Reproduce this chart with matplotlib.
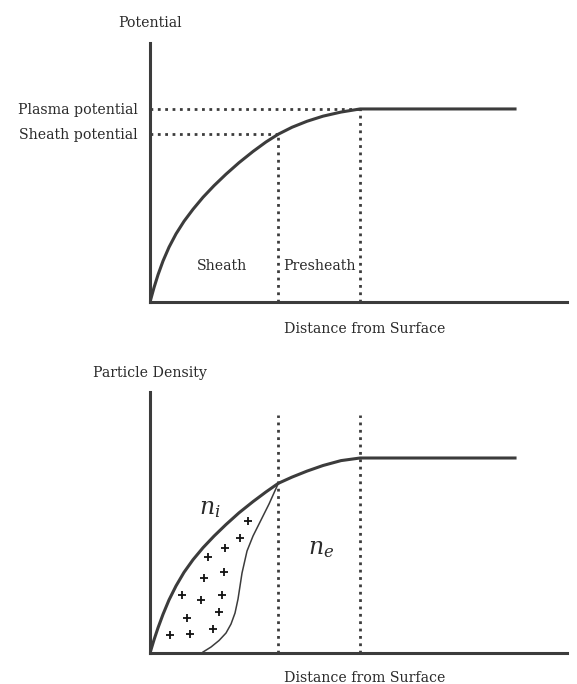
import numpy as np
import matplotlib.pyplot as plt

# values (distance / potential / density in arbitrary units)
sheath_edge = 12.83
presheath_edge = 21.0
plasma_pot = 19.3
sheath_pot = 16.8

pot_x = [0, 0.4, 0.8, 1.3, 1.9, 2.6, 3.4, 4.3, 5.3, 6.4, 7.6, 8.9, 10.3, 11.6,
         12.83, 14.2, 15.7, 17.3, 19.1, 21.0, 36.5]
pot_y = [0, 1.44, 2.72, 4.1, 5.48, 6.81, 8.07, 9.27, 10.47, 11.63, 12.78, 13.93,
         15.05, 16.0, 16.78, 17.47, 18.07, 18.58, 18.99, 19.3, 19.3]

ni_x = [0, 0.4, 0.8, 1.3, 1.9, 2.6, 3.4, 4.3, 5.3, 6.4, 7.6, 8.9, 10.3, 11.6,
        12.83, 14.2, 15.7, 17.3, 19.1, 21.0, 36.5]
ni_y = [0, 1.32, 2.52, 3.87, 5.31, 6.71, 8.07, 9.33, 10.53, 11.69, 12.85, 14.02,
        15.14, 16.11, 16.97, 17.59, 18.19, 18.75, 19.24, 19.5, 19.5]

ne_x = [5.3, 6.1, 6.9, 7.6, 8.1, 8.5, 8.8, 9.0, 9.2, 9.7, 10.3, 11.0, 11.9, 12.83]
ne_y = [0.1, 0.6, 1.25, 2.0, 2.9, 4.0, 5.4, 6.7, 8.0, 10.2, 11.7, 13.1, 14.9, 16.97]

plus_x = [1.97, 4.03, 6.3, 3.73, 6.87, 3.23, 5.07, 7.2, 5.4, 7.4, 5.8, 7.47, 9.0, 9.83]
plus_y = [1.8, 1.87, 2.37, 3.53, 4.07, 5.8, 5.3, 5.8, 7.47, 8.13, 9.63, 10.47, 11.47, 13.23]

dens_line_top = 23.8

plt.rcParams['font.family'] = 'DejaVu Serif'
plt.rcParams['mathtext.fontset'] = 'dejavuserif'

dark = '#3c3c3c'
txt = '#2a2a2a'
fs = 10.2

fig = plt.figure(figsize=(5.77, 6.84), dpi=100)
ax1 = fig.add_axes([0.260, 0.5585, 0.7227, 0.3787])
ax2 = fig.add_axes([0.260, 0.0453, 0.7227, 0.3816])

for ax, ytop in [(ax1, 25.9), (ax2, 26.1)]:
    ax.set_xlim(0, 41.7)
    ax.set_ylim(0, ytop)
    for s in ['top', 'right']:
        ax.spines[s].set_visible(False)
    for s in ['left', 'bottom']:
        ax.spines[s].set_linewidth(2.2)
        ax.spines[s].set_color(dark)
    ax.set_xticks([])
    ax.tick_params(axis='y', length=0, pad=9, labelsize=fs, labelcolor=txt)

# top panel: potential
ax1.plot(pot_x, pot_y, color=dark, lw=2.2, solid_joinstyle='round')
ax1.plot([0, presheath_edge], [plasma_pot, plasma_pot], ':', color=dark, lw=2)
ax1.plot([0, sheath_edge], [sheath_pot, sheath_pot], ':', color=dark, lw=2)
ax1.plot([sheath_edge, sheath_edge], [0, sheath_pot], ':', color=dark, lw=2)
ax1.plot([presheath_edge, presheath_edge], [0, plasma_pot], ':', color=dark, lw=2)
ax1.set_yticks([plasma_pot, sheath_pot])
ax1.set_yticklabels(['Plasma potential', 'Sheath potential'])
ax1.text(0, 1.077, 'Potential', transform=ax1.transAxes, ha='center', va='center',
         fontsize=fs, color=txt)
ax1.text(0.514, -0.104, 'Distance from Surface', transform=ax1.transAxes,
         ha='center', va='center', fontsize=fs, color=txt)
ax1.text(7.2, 3.6, 'Sheath', ha='center', va='center', fontsize=fs, color=txt)
ax1.text(16.9, 3.6, 'Presheath', ha='center', va='center', fontsize=fs, color=txt)

# bottom panel: particle density
ax2.set_yticks([])
ax2.plot(ni_x, ni_y, color=dark, lw=2.2, solid_joinstyle='round')
ax2.plot(ne_x, ne_y, color=dark, lw=1.1, solid_joinstyle='round')
ax2.plot([sheath_edge, sheath_edge], [0, dens_line_top], ':', color=dark, lw=2)
ax2.plot([presheath_edge, presheath_edge], [0, dens_line_top], ':', color=dark, lw=2)
ax2.scatter(plus_x, plus_y, marker='+', s=36, color='#111111', linewidths=1.3)
ax2.text(6.0, 14.5, '$n_i$', ha='center', va='center', fontsize=17, color=txt)
ax2.text(17.1, 10.5, '$n_e$', ha='center', va='center', fontsize=17, color=txt)
ax2.text(0, 1.073, 'Particle Density', transform=ax2.transAxes, ha='center',
         va='center', fontsize=fs, color=txt)
ax2.text(0.514, -0.096, 'Distance from Surface', transform=ax2.transAxes,
         ha='center', va='center', fontsize=fs, color=txt)

fig.savefig('out.png', dpi=100, facecolor='white')
